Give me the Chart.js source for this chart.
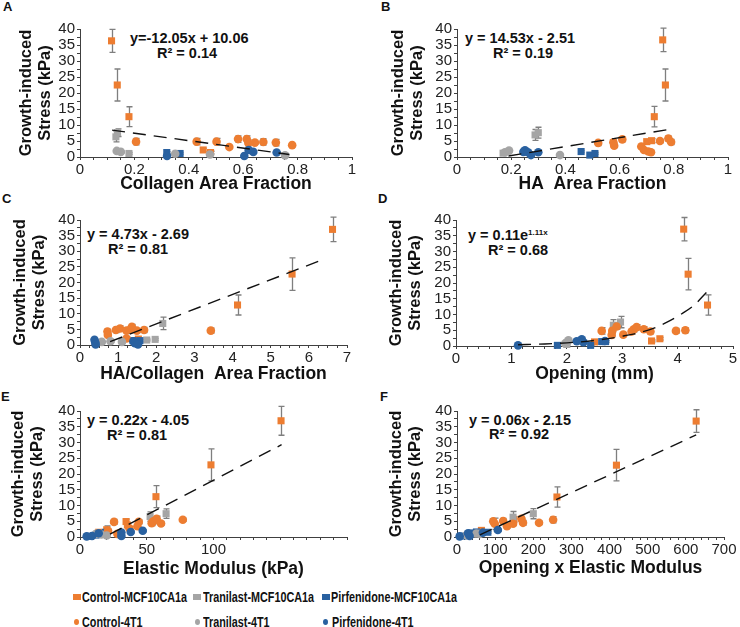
<!DOCTYPE html>
<html>
<head>
<meta charset="utf-8">
<script src="https://cdn.jsdelivr.net/npm/chart.js@4.4.0/dist/chart.umd.min.js"></script>
<style>
  body { margin: 0; background: #fff; }
  #page { position: relative; width: 740px; height: 627px; overflow: hidden; font-family: 'Liberation Sans', Arial, sans-serif; color: #111; }
  .panel { position: absolute; }
  .letter { position: absolute; font-weight: bold; font-size: 13px; line-height: 14px; }
  .eq { position: absolute; font-weight: bold; font-size: 14.5px; line-height: 16px; white-space: pre; }
  .eq sup { font-size: 8px; vertical-align: 5px; line-height: 0; }
  .leg { position: absolute; font-weight: bold; font-size: 15px; line-height: 16px; white-space: nowrap; transform: scaleX(0.72); transform-origin: 0 50%; }
  .mk { position: absolute; }
</style>
</head>
<body>
<div id="page">
  <div class="letter" style="left:3px;top:0px">A</div>
  <div class="letter" style="left:381px;top:0px">B</div>
  <div class="letter" style="left:2px;top:192px">C</div>
  <div class="letter" style="left:378px;top:192px">D</div>
  <div class="letter" style="left:1px;top:390px">E</div>
  <div class="letter" style="left:380px;top:390px">F</div>

  <div class="eq" style="left:130px;top:30px">y=-12.05x + 10.06</div>
  <div class="eq" style="left:157px;top:45px">R² = 0.14</div>
  <div class="eq" style="left:465px;top:30px">y = 14.53x - 2.51</div>
  <div class="eq" style="left:493px;top:45px">R² = 0.19</div>
  <div class="eq" style="left:87px;top:226px">y = 4.73x - 2.69</div>
  <div class="eq" style="left:108px;top:241px">R² = 0.81</div>
  <div class="eq" style="left:468px;top:227px">y = 0.11e<sup>1.11x</sup></div>
  <div class="eq" style="left:488px;top:242px">R² = 0.68</div>
  <div class="eq" style="left:87px;top:412px">y = 0.22x - 4.05</div>
  <div class="eq" style="left:107px;top:427px">R² = 0.81</div>
  <div class="eq" style="left:469px;top:412px">y = 0.06x - 2.15</div>
  <div class="eq" style="left:489px;top:426px">R² = 0.92</div>

  <div id="legend"></div>
</div>
<script>
// series order: Control-MCF10CA1a, Tranilast-MCF10CA1a, Pirfenidone-MCF10CA1a, Control-4T1, Tranilast-4T1, Pirfenidone-4T1
var seriesNames = ['Control-MCF10CA1a', 'Tranilast-MCF10CA1a', 'Pirfenidone-MCF10CA1a', 'Control-4T1', 'Tranilast-4T1', 'Pirfenidone-4T1'];

// each point: [x, stress (kPa), error]
// A - collagen area fraction
var aCtrlMCF = [[0.116, 36.3, 3.6], [0.137, 22.5, 5.0], [0.18, 12.6, 3.1], [0.453, 2.2, 0.5], [0.48, 1.4, 0.4]];
var aTranMCF = [[0.132, 6.3, 1.6], [0.138, 7.6, 1.2], [0.18, 1.1, 0.3]];
var aPirfMCF = [[0.319, 1.4, 0.3], [0.368, 1.1, 0.3]];
var aCtrl4T1 = [[0.206, 4.8, 1.0], [0.429, 4.8, 1.0], [0.502, 4.8, 1.0], [0.549, 3.1, 0.5], [0.581, 5.6, 1.0], [0.613, 5.6, 1.0], [0.619, 4.4, 1.0], [0.643, 4.5, 0.5], [0.674, 4.7, 1.0], [0.72, 4.5, 1.0], [0.78, 3.7, 0.5]];
var aTran4T1 = [[0.135, 1.9, 0.3], [0.15, 1.6, 0.3], [0.35, 1.0, 0.3], [0.478, 0.8, 0.3], [0.754, 0.5, 0.3]];
var aPirf4T1 = [[0.32, 0.3, 0.2], [0.604, 0.3, 0.2], [0.62, 2.2, 0.5], [0.637, 1.6, 0.3], [0.723, 1.4, 0.3]];
var aTrendX = [0.118, 0.77];
var aTrendY = [8.4, 0.8];

// B - HA area fraction
var bCtrlMCF = [[0.759, 36.6, 3.7], [0.769, 22.5, 5.0], [0.728, 12.6, 3.2], [0.70, 4.8, 0.6], [0.718, 5.1, 0.6]];
var bTranMCF = [[0.288, 6.9, 1.7], [0.30, 7.6, 1.7], [0.17, 1.2, 0.3]];
var bPirfMCF = [[0.458, 1.7, 0.3], [0.49, 0.6, 0.2], [0.509, 1.1, 0.3]];
var bCtrl4T1 = [[0.521, 4.4, 0.8], [0.577, 4.6, 0.8], [0.58, 3.5, 0.6], [0.61, 5.5, 0.8], [0.68, 3.3, 0.6], [0.69, 2.2, 0.5], [0.706, 1.7, 0.4], [0.716, 1.5, 0.4], [0.749, 5.0, 0.6], [0.78, 5.8, 0.8], [0.79, 4.7, 0.8]];
var bTran4T1 = [[0.177, 1.5, 0.3], [0.192, 2.0, 0.4], [0.38, 0.6, 0.2]];
var bPirf4T1 = [[0.245, 1.6, 0.3], [0.251, 2.1, 0.4], [0.262, 1.5, 0.3], [0.273, 0.6, 0.2], [0.30, 1.5, 0.3]];
var bTrendX = [0.19, 0.78];
var bTrendY = [0.3, 8.6];

// C - HA/collagen area fraction
var cCtrlMCF = [[6.62, 37.0, 3.9], [5.56, 22.7, 5.2], [4.13, 12.8, 3.2], [1.53, 1.9, 0.4]];
var cTranMCF = [[2.17, 6.9, 2.0], [1.97, 1.8, 0.3], [1.75, 1.6, 0.3]];
var cPirfMCF = [[1.39, 1.4, 0.3], [1.57, 1.4, 0.3]];
var cCtrl4T1 = [[0.72, 4.3, 0.8], [0.73, 3.2, 0.6], [0.94, 4.8, 0.8], [1.05, 5.3, 0.8], [1.22, 4.6, 0.8], [1.33, 5.0, 0.8], [1.36, 5.8, 0.8], [1.49, 4.6, 0.6], [1.68, 4.8, 0.8], [1.22, 2.1, 0.4], [3.43, 4.6, 0.8]];
var cTran4T1 = [[0.57, 1.0, 0.2], [0.8, 1.2, 0.3], [1.1, 1.0, 0.2]];
var cPirf4T1 = [[0.38, 1.7, 0.3], [0.4, 0.8, 0.2], [0.41, 0.2, 0.1], [1.4, 1.2, 0.3], [1.44, 0.6, 0.2], [1.52, 0.2, 0.1]];
var cTrendX = [0.79, 6.34];
var cTrendY = [1.06, 27.2];

// D - opening (mm)
var dCtrlMCF = [[4.11, 37.1, 3.7], [4.19, 22.8, 5.0], [4.54, 13.0, 3.2], [3.53, 1.6, 0.3], [3.68, 2.3, 0.4], [2.5, 1.3, 0.3]];
var dTranMCF = [[2.84, 6.6, 1.8], [2.97, 7.6, 1.8], [2.0, 0.5, 0.2]];
var dPirfMCF = [[1.83, 0.2, 0.1], [2.43, 0.2, 0.1], [2.63, 1.4, 0.3], [2.7, 1.4, 0.3]];
var dCtrl4T1 = [[2.63, 4.8, 1.0], [2.81, 3.5, 0.6], [2.82, 4.8, 0.8], [2.9, 6.2, 0.8], [3.02, 3.6, 0.6], [3.17, 4.6, 0.8], [3.21, 5.3, 0.8], [3.26, 6.0, 0.8], [3.39, 5.3, 0.8], [3.51, 4.6, 0.8], [3.97, 4.8, 0.8], [4.14, 5.0, 0.8]];
var dTran4T1 = [[1.97, 0.8, 0.2], [2.0, 1.2, 0.3], [2.03, 1.8, 0.3]];
var dPirf4T1 = [[1.12, 0.2, 0.1], [2.18, 1.5, 0.3], [2.27, 2.1, 0.4], [2.3, 1.2, 0.3], [2.69, 1.6, 0.3]];
var dTrendX = [1.12, 1.6, 2.0, 2.5, 3.0, 3.5, 3.8, 4.1, 4.3, 4.52];
var dTrendY = [0.38, 0.65, 1.0, 1.75, 3.1, 5.2, 7.5, 10.5, 13.0, 17.0];

// E - elastic modulus (kPa)
var eCtrlMCF = [[150.6, 36.9, 4.6], [98.1, 22.9, 5.1], [56.9, 12.8, 3.5], [34.5, 4.9, 0.8], [35.5, 3.8, 0.6], [14, 1.5, 0.5], [20, 2.3, 1.2]];
var eTranMCF = [[52.5, 6.5, 1.5], [64.5, 7.4, 1.5], [19, 1.2, 0.4]];
var ePirfMCF = [[7, 0.2, 0.1], [12, 0.6, 0.2], [19, 1.5, 0.3]];
var eCtrl4T1 = [[25.5, 4.8, 0.8], [43, 3.4, 0.5], [53.7, 4.4, 0.8], [55, 5.0, 0.8], [57.4, 5.8, 0.8], [60.7, 4.3, 0.6], [77, 5.5, 0.5], [37, 2.8, 0.5], [21, 2.0, 0.5], [28, 1.0, 0.3], [44, 4.8, 0.6]];
var eTran4T1 = [[12, 1.0, 0.3], [16, 0.8, 0.3], [20, 0.5, 0.2]];
var ePirf4T1 = [[5, 0.2, 0.1], [9, 0.3, 0.1], [14, 1.2, 0.3], [31, 1.4, 0.3], [31, 0.3, 0.1], [38, 1.6, 0.3], [47, 2.0, 0.3]];
var eTrendX = [22.5, 151];
var eTrendY = [0.9, 29.3];

// F - opening x elastic modulus
var fCtrlMCF = [[627, 36.8, 3.6], [418, 22.8, 5.0], [262, 12.7, 3.2], [64, 2.1, 0.4], [149, 5.6, 0.8]];
var fTranMCF = [[147, 6.3, 1.8], [200, 7.4, 1.6], [40, 1.0, 0.3]];
var fPirfMCF = [[16, 0.3, 0.1], [38, 1.3, 0.3], [51, 1.6, 0.3], [81, 1.5, 0.3]];
var fCtrl4T1 = [[99, 4.2, 1.8], [121, 5.1, 0.8], [131, 3.4, 0.6], [147, 4.2, 0.6], [169, 5.8, 0.8], [173, 4.5, 0.8], [215, 4.5, 0.6], [252, 5.5, 1.0], [95, 5.0, 0.8]];
var fTran4T1 = [[25, 0.6, 0.2], [51, 1.1, 0.3], [60, 1.0, 0.3]];
var fPirf4T1 = [[7, 0.2, 0.1], [29, 1.2, 0.3], [33, 0.3, 0.1], [68, 1.4, 0.3], [107, 2.2, 0.4]];
var fTrendX = [60, 627];
var fTrendY = [0.7, 32.4];

var seriesColors = ['#ED7D31', '#A5A5A5', '#2961A0', '#ED7D31', '#A5A5A5', '#2961A0'];
var seriesShapes = ['rect', 'rect', 'rect', 'circle', 'circle', 'circle'];

var FONT = "'Liberation Sans', Arial, sans-serif";

// panel geometry: area = [left, right, top, bottom] inside the canvas
var panels = [
  { left: 0, top: 0, h: 195, area: [80, 352, 29, 157], yPad: 17, xPad: 0, xMax: 1, xStep: 0.05, xMajor: 0.2, xLabelMax: 1, xTitle: 'Collagen Area Fraction',
    sets: [aCtrlMCF, aTranMCF, aPirfMCF, aCtrl4T1, aTran4T1, aPirf4T1], tx: aTrendX, ty: aTrendY, curve: false },
  { left: 370, top: 0, h: 195, area: [87, 358, 29, 157], yPad: 19, xPad: 0, xMax: 1, xStep: 0.05, xMajor: 0.2, xLabelMax: 1, xTitle: 'HA  Area Fraction',
    sets: [bCtrlMCF, bTranMCF, bPirfMCF, bCtrl4T1, bTran4T1, bPirf4T1], tx: bTrendX, ty: bTrendY, curve: false },
  { left: 0, top: 195, h: 195, area: [80, 347, 25, 150], yPad: 11, xPad: 5, xMax: 7, xStep: 0.25, xMajor: 1, xLabelMax: 7, xTitle: 'HA/Collagen  Area Fraction',
    sets: [cCtrlMCF, cTranMCF, cPirfMCF, cCtrl4T1, cTran4T1, cPirf4T1], tx: cTrendX, ty: cTrendY, curve: false },
  { left: 370, top: 195, h: 195, area: [86, 363, 25, 151], yPad: 17, xPad: 5, xMax: 5, xStep: 0.2, xMajor: 1, xLabelMax: 5, xTitle: 'Opening (mm)',
    sets: [dCtrlMCF, dTranMCF, dPirfMCF, dCtrl4T1, dTran4T1, dPirf4T1], tx: dTrendX, ty: dTrendY, curve: true },
  { left: 0, top: 390, h: 190, area: [80, 347, 21, 147], yPad: 9, xPad: 0, xMax: 200, xStep: 10, xMajor: 50, xLabelMax: 100, xTitle: 'Elastic Modulus (kPa)',
    sets: [eCtrlMCF, eTranMCF, ePirfMCF, eCtrl4T1, eTran4T1, ePirf4T1], tx: eTrendX, ty: eTrendY, curve: false },
  { left: 370, top: 390, h: 190, area: [87, 354, 21, 147], yPad: 17, xPad: 1.5, xMax: 700, xStep: 20, xMajor: 100, xLabelMax: 700, xTitle: 'Opening x Elastic Modulus',
    sets: [fCtrlMCF, fTranMCF, fPirfMCF, fCtrl4T1, fTran4T1, fPirf4T1], tx: fTrendX, ty: fTrendY, curve: false }
];

// vertical error bars, drawn under the markers
var errorBarPlugin = {
  id: 'errorBars',
  beforeDatasetsDraw: function (chart) {
    var ctx = chart.ctx;
    var xs = chart.scales.x, ys = chart.scales.y;
    ctx.save();
    ctx.strokeStyle = '#7F7F7F';
    ctx.lineWidth = 1.3;
    chart.data.datasets.forEach(function (ds) {
      if (!ds.errs) return;
      ds.data.forEach(function (p, i) {
        var e = ds.errs[i];
        if (!e) return;
        var px = Math.round(xs.getPixelForValue(p.x)) + 0.5;
        var top = ys.getPixelForValue(p.y + e);
        var bot = ys.getPixelForValue(Math.max(0, p.y - e));
        ctx.beginPath();
        ctx.moveTo(px, top); ctx.lineTo(px, bot);
        ctx.moveTo(px - 3, top); ctx.lineTo(px + 3, top);
        ctx.moveTo(px - 3, bot); ctx.lineTo(px + 3, bot);
        ctx.stroke();
      });
    });
    ctx.restore();
  }
};

function isMultiple(v, step) {
  var r = v / step;
  return Math.abs(r - Math.round(r)) < 1e-6;
}

function buildPanel(p) {
  var wrap = document.createElement('div');
  wrap.className = 'panel';
  wrap.style.left = p.left + 'px';
  wrap.style.top = p.top + 'px';
  var canvas = document.createElement('canvas');
  canvas.width = 370;
  canvas.height = p.h;
  canvas.style.width = '370px';
  canvas.style.height = p.h + 'px';
  wrap.appendChild(canvas);
  document.getElementById('page').appendChild(wrap);

  var datasets = [];
  // trend line first so it sits on top
  datasets.push({
    label: 'trend',
    data: p.tx.map(function (x, i) { return { x: x, y: p.ty[i] }; }),
    showLine: true,
    borderColor: '#111',
    borderWidth: 1.4,
    borderDash: [13, 8],
    pointRadius: 0,
    fill: false,
    tension: p.curve ? 0.4 : 0,
    cubicInterpolationMode: p.curve ? 'monotone' : 'default'
  });
  // reverse so the first series ends up drawn first (underneath)
  for (var s = p.sets.length - 1; s >= 0; s--) {
    var list = p.sets[s];
    datasets.push({
      label: seriesNames[s],
      data: list.map(function (q) { return { x: q[0], y: q[1] }; }),
      errs: list.map(function (q) { return q[2] || 0; }),
      pointStyle: seriesShapes[s],
      pointRadius: seriesShapes[s] === 'rect' ? 5 : 4.3,
      pointBackgroundColor: seriesColors[s],
      pointBorderWidth: 0,
      borderColor: seriesColors[s],
      showLine: false,
      clip: false
    });
  }

  var a = p.area;
  new Chart(canvas.getContext('2d'), {
    type: 'scatter',
    data: { datasets: datasets },
    plugins: [errorBarPlugin],
    options: {
      responsive: false,
      animation: false,
      devicePixelRatio: 1,
      layout: { padding: { left: 0, right: 370 - a[1], top: a[2], bottom: 0 } },
      plugins: { legend: { display: false }, tooltip: { enabled: false } },
      scales: {
        x: {
          type: 'linear',
          min: 0,
          max: p.xMax,
          afterFit: function (sc) { sc.height = p.h - a[3]; },
          border: { color: '#404040', width: 1 },
          grid: { drawOnChartArea: false, drawTicks: true, tickLength: 3, color: '#404040' },
          ticks: {
            stepSize: p.xStep,
            autoSkip: false,
            maxRotation: 0,
            padding: 1,
            color: '#222',
            font: { family: FONT, size: 15 },
            callback: function (v) {
              if (!isMultiple(v, p.xMajor) || v > p.xLabelMax + 1e-9) return '';
              return String(Math.round(v * 100) / 100);
            }
          },
          title: {
            display: true,
            text: p.xTitle,
            color: '#111',
            font: { family: FONT, size: 17.5, weight: 'bold', lineHeight: 1.2 },
            padding: { top: 0, bottom: p.xPad }
          }
        },
        y: {
          type: 'linear',
          min: 0,
          max: 40,
          afterFit: function (sc) { sc.width = a[0]; },
          border: { color: '#404040', width: 1 },
          grid: { drawOnChartArea: false, drawTicks: true, tickLength: 3, color: '#404040' },
          ticks: {
            stepSize: 2.5,
            autoSkip: false,
            padding: 2,
            color: '#222',
            font: { family: FONT, size: 15 },
            callback: function (v) { return isMultiple(v, 5) ? String(v) : ''; }
          },
          title: {
            display: true,
            text: ['Growth-induced', 'Stress (kPa)'],
            color: '#111',
            font: { family: FONT, size: 16.5, weight: 'bold', lineHeight: 1.15 },
            padding: { top: p.yPad, bottom: 0 }
          }
        }
      }
    }
  });
}

panels.forEach(buildPanel);

// legend under the panels
var legendItems = [
  { name: 'Control-MCF10CA1a', color: '#ED7D31', shape: 'rect', mx: 73, tx: 82, cy: 597 },
  { name: 'Tranilast-MCF10CA1a', color: '#A5A5A5', shape: 'rect', mx: 193, tx: 203, cy: 597 },
  { name: 'Pirfenidone-MCF10CA1a', color: '#2961A0', shape: 'rect', mx: 322, tx: 331, cy: 597 },
  { name: 'Control-4T1', color: '#ED7D31', shape: 'circle', mx: 74, tx: 82, cy: 622 },
  { name: 'Tranilast-4T1', color: '#A5A5A5', shape: 'circle', mx: 195, tx: 203, cy: 622 },
  { name: 'Pirfenidone-4T1', color: '#2961A0', shape: 'circle', mx: 323, tx: 332, cy: 622 }
];
var legend = document.getElementById('legend');
legendItems.forEach(function (it) {
  var mk = document.createElement('div');
  mk.className = 'mk';
  mk.style.background = it.color;
  mk.style.left = it.mx + 'px';
  mk.style.top = (it.cy - 3) + 'px';
  if (it.shape === 'rect') {
    mk.style.width = '8px'; mk.style.height = '6px';
  } else {
    mk.style.width = '5px'; mk.style.height = '6px'; mk.style.borderRadius = '50%';
  }
  legend.appendChild(mk);
  var t = document.createElement('div');
  t.className = 'leg';
  t.style.left = it.tx + 'px';
  t.style.top = (it.cy - 8) + 'px';
  t.textContent = it.name;
  legend.appendChild(t);
});
</script>
</body>
</html>
